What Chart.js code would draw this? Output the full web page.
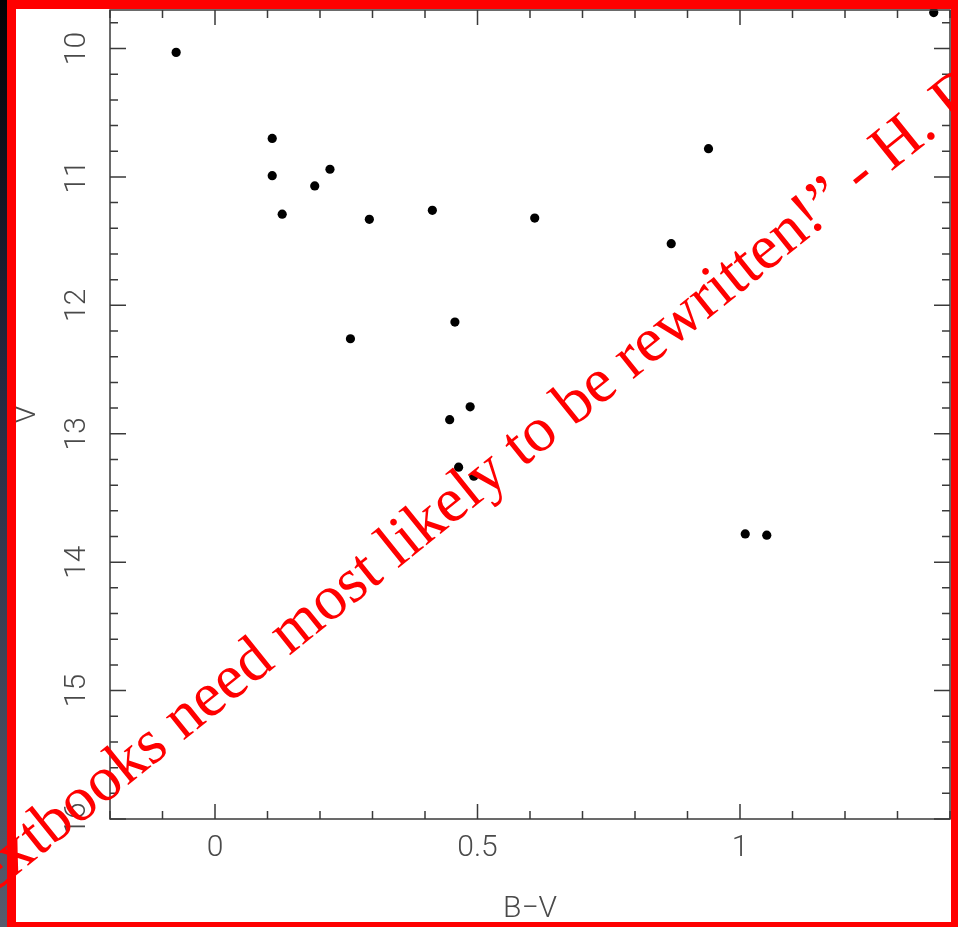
<!DOCTYPE html>
<html>
<head>
<meta charset="utf-8">
<script src="https://cdn.jsdelivr.net/npm/chart.js@4.4.1/dist/chart.umd.min.js"></script>
<style>
  html, body { margin: 0; padding: 0; background: #000; }
  #wrap { width: 958px; height: 927px; }
  canvas { display: block; }
</style>
</head>
<body>
<div id="wrap"><canvas id="cmd" width="958" height="927"></canvas></div>
<script>
// Colour-magnitude diagram: B-V colour against V magnitude
const bMinusV = [-0.074, 0.109, 0.109, 0.128, 0.190, 0.219, 0.294, 0.414, 0.609, 0.258,
                 0.457, 0.486, 0.447, 0.464, 0.493, 0.869, 0.940, 1.369, 1.010, 1.051];
const vMag    = [10.03, 10.70, 10.99, 11.29, 11.07, 10.94, 11.33, 11.26, 11.32, 12.26,
                 12.13, 12.79, 12.89, 13.26, 13.33, 11.52, 10.78, 9.72, 13.78, 13.79];

// Axis ranges and labelled ticks
const xRange = [-0.2, 1.4];
const yRange = [9.7, 16];
const xMajorTicks = [0, 0.5, 1];
const xTickLabels = ['0', '0.5', '1'];
const yMajorTicks = [10, 11, 12, 13, 14, 15, 16];
const yTickLabels = ['10', '11', '12', '13', '14', '15', '16'];
const xMinorStep = 0.1;
const yMinorStep = 0.2;

const quote = '\u201CTextbooks need most likely to be rewritten!\u201D - H. D';

const AXIS_COLOR = '#3a3a3a';
const LABEL_COLOR = '#4a4a4a';
const LABEL_FONT = '300 30px Roboto, "DejaVu Sans", sans-serif';

function minorValues(lo, hi, step) {
  const out = [];
  const n = Math.round((hi - lo) / step);
  for (let i = 0; i <= n; i++) out.push(+(lo + i * step).toFixed(4));
  return out;
}

const frame = {
  id: 'frame',
  beforeDraw(chart) {
    const { ctx, width, height } = chart;
    ctx.save();
    const g = ctx.createLinearGradient(0, 0, 0, height);
    g.addColorStop(0, '#020205');
    g.addColorStop(0.4, '#242840');
    g.addColorStop(1, '#575c6d');
    ctx.fillStyle = g;
    ctx.fillRect(0, 0, width, height);
    ctx.fillStyle = '#ffffff';
    ctx.fillRect(8, 0, width - 8, height);
    ctx.restore();
  },
  afterDraw(chart) {
    const { ctx, chartArea: a, scales } = chart;
    const xs = scales.x, ys = scales.y;
    ctx.save();
    // plot box
    ctx.strokeStyle = AXIS_COLOR;
    ctx.lineWidth = 1.5;
    ctx.strokeRect(a.left, a.top, a.right - a.left, a.bottom - a.top);

    // inward ticks on all four sides
    ctx.beginPath();
    minorValues(xRange[0], xRange[1], xMinorStep).forEach(v => {
      const px = xs.getPixelForValue(v);
      const major = xMajorTicks.some(m => Math.abs(m - v) < 1e-6);
      const len = major ? 15 : 8;
      ctx.moveTo(px, a.bottom); ctx.lineTo(px, a.bottom - len);
      ctx.moveTo(px, a.top); ctx.lineTo(px, a.top + len);
    });
    minorValues(yRange[0] + 0.1, yRange[1], yMinorStep).forEach(v => {
      const py = ys.getPixelForValue(v);
      const major = yMajorTicks.some(m => Math.abs(m - v) < 1e-6);
      const len = major ? 16 : 8;
      ctx.moveTo(a.left, py); ctx.lineTo(a.left + len, py);
      ctx.moveTo(a.right, py); ctx.lineTo(a.right - len, py);
    });
    ctx.stroke();

    // tick labels
    ctx.fillStyle = LABEL_COLOR;
    ctx.font = LABEL_FONT;
    ctx.textAlign = 'center';
    ctx.textBaseline = 'middle';
    xMajorTicks.forEach((v, i) => {
      ctx.fillText(xTickLabels[i], xs.getPixelForValue(v), a.bottom + 29);
    });
    yMajorTicks.forEach((v, i) => {
      ctx.save();
      ctx.translate(a.left - 33, ys.getPixelForValue(v));
      ctx.rotate(-Math.PI / 2);
      ctx.fillText(yTickLabels[i], 0, 0);
      ctx.restore();
    });

    // red outline
    ctx.fillStyle = '#ff0000';
    ctx.fillRect(7, 0, 951, 9);
    ctx.fillRect(7, 0, 9, 927);
    ctx.fillRect(951, 0, 7, 927);
    ctx.fillRect(7, 922, 951, 5);

    // diagonal red quotation
    const ang = 38.8 * Math.PI / 180;
    ctx.font = '63.5px "Liberation Serif", "Times New Roman", serif';
    ctx.textAlign = 'left';
    ctx.textBaseline = 'alphabetic';
    const lead = ctx.measureText('\u201CTe').width;
    ctx.translate(14, 877);
    ctx.rotate(-ang);
    ctx.fillText(quote, -lead, 0);
    ctx.restore();
  }
};

new Chart(document.getElementById('cmd'), {
  type: 'scatter',
  data: {
    datasets: [{
      data: bMinusV.map((x, i) => ({ x, y: vMag[i] })),
      backgroundColor: '#000000',
      borderColor: '#000000',
      borderWidth: 0,
      pointRadius: 4.6,
      clip: false
    }]
  },
  options: {
    responsive: false,
    animation: false,
    devicePixelRatio: 1,
    layout: { padding: { top: 10, right: 8, left: 0, bottom: 0 } },
    plugins: { legend: { display: false }, tooltip: { enabled: false } },
    scales: {
      x: {
        type: 'linear', position: 'bottom',
        min: xRange[0], max: xRange[1],
        grid: { display: false, drawTicks: false },
        border: { display: false },
        ticks: { display: false },
        title: { display: true, text: 'B\u2212V', color: LABEL_COLOR,
                 font: { family: 'Roboto', weight: 300, size: 30 },
                 padding: { top: 0, bottom: 0 } },
        afterFit: s => { s.height = 108; }
      },
      y: {
        type: 'linear', position: 'left', reverse: true,
        min: yRange[0], max: yRange[1],
        grid: { display: false, drawTicks: false },
        border: { display: false },
        ticks: { display: false },
        title: { display: true, text: 'V', color: LABEL_COLOR,
                 font: { family: 'Roboto', weight: 300, size: 30 },
                 padding: { top: 9, bottom: 0 } },
        afterFit: s => { s.width = 110; }
      }
    }
  },
  plugins: [frame]
});
</script>
</body>
</html>
